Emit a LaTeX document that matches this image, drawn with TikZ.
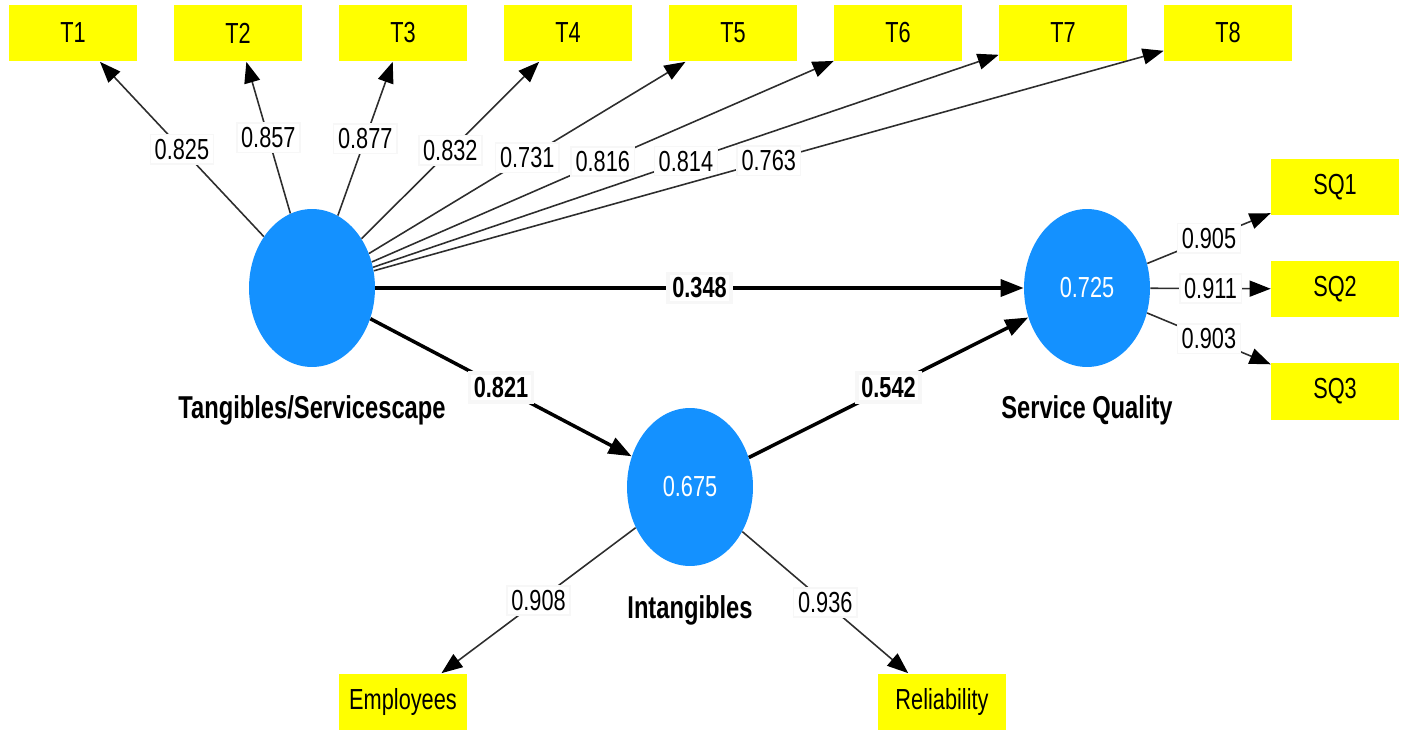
\documentclass[tikz,border=0pt]{standalone}
\usepackage{fontspec}
\setmainfont{Liberation Sans}[FakeStretch=0.75]
\usetikzlibrary{arrows.meta,shapes.geometric}

\begin{document}
\begin{tikzpicture}[x=0.02cm, y=-0.02cm, font=\fontsize{16.5}{18}\selectfont]

% === Colors ===
\definecolor{latentblue}{RGB}{20,145,255}
\definecolor{itemyellow}{RGB}{255,255,0}
\definecolor{loadline}{RGB}{45,45,45}

\tikzset{
  latent/.style={ellipse, fill=latentblue, minimum width=2.52cm,
    minimum height=3.16cm, inner sep=0pt, text=white},
  item/.style={rectangle, fill=itemyellow, minimum width=2.56cm,
    minimum height=1.14cm, inner sep=0pt},
  load/.style={draw=loadline, line width=0.9pt,
    -{Triangle[length=0.42cm, width=0.32cm, color=black]}},
  struct/.style={draw=black, line width=2pt,
    -{Triangle[length=0.46cm, width=0.34cm]}},
  coef/.style={fill=white, draw=gray!6, inner sep=2.5pt},
  boldcoef/.style={coef, font=\fontsize{16.5}{18}\selectfont\bfseries},
  cname/.style={font=\fontsize{18}{20}\selectfont\bfseries}
}

\useasboundingbox (0,0) rectangle (1406,730);

% === Latent variables ===
\node[latent] (tang) at (312,288) {};
\node[latent] (sq)   at (1087,288) {0.725};
\node[latent] (intg) at (690,487) {0.675};

\node[cname] (tanglbl) at (312,410) {Tangibles/Servicescape};
\node[cname] (sqlbl)   at (1087,410) {Service Quality};
\node[cname] (intglbl) at (690,610) {Intangibles};

% === Indicators (yellow boxes) ===
\foreach \i in {1,...,8}{
  \node[item] (t\i) at ({73+165*(\i-1)},33) {T\i};
}
\foreach \i/\y in {1/187, 2/289, 3/391}{
  \node[item] (sq\i) at (1335,\y) {SQ\i};
}
\node[item] (emp) at (403,702) {Employees};
\node[item] (rel) at (942,702) {Reliability};

% === Outer loadings ===
\foreach \i/\v in {1/0.825, 2/0.857, 3/0.877, 4/0.832,
                   5/0.731, 6/0.816, 7/0.814, 8/0.763}{
  \draw[load] (tang) -- node[coef] {\v} (t\i);
}
\foreach \i/\v in {1/0.905, 2/0.911, 3/0.903}{
  \draw[load] (sq) -- node[coef] {\v} (sq\i);
}
\draw[load] (intg) -- node[coef] {0.908} (emp);
\draw[load] (intg) -- node[coef] {0.936} (rel);

% === Path coefficients ===
\draw[struct] (tang) -- node[boldcoef] {0.348} (sq);
\draw[struct] (tang) -- node[boldcoef] {0.821} (intg);
\draw[struct] (intg) -- node[boldcoef] {0.542} (sq);

\end{tikzpicture}
\end{document}
